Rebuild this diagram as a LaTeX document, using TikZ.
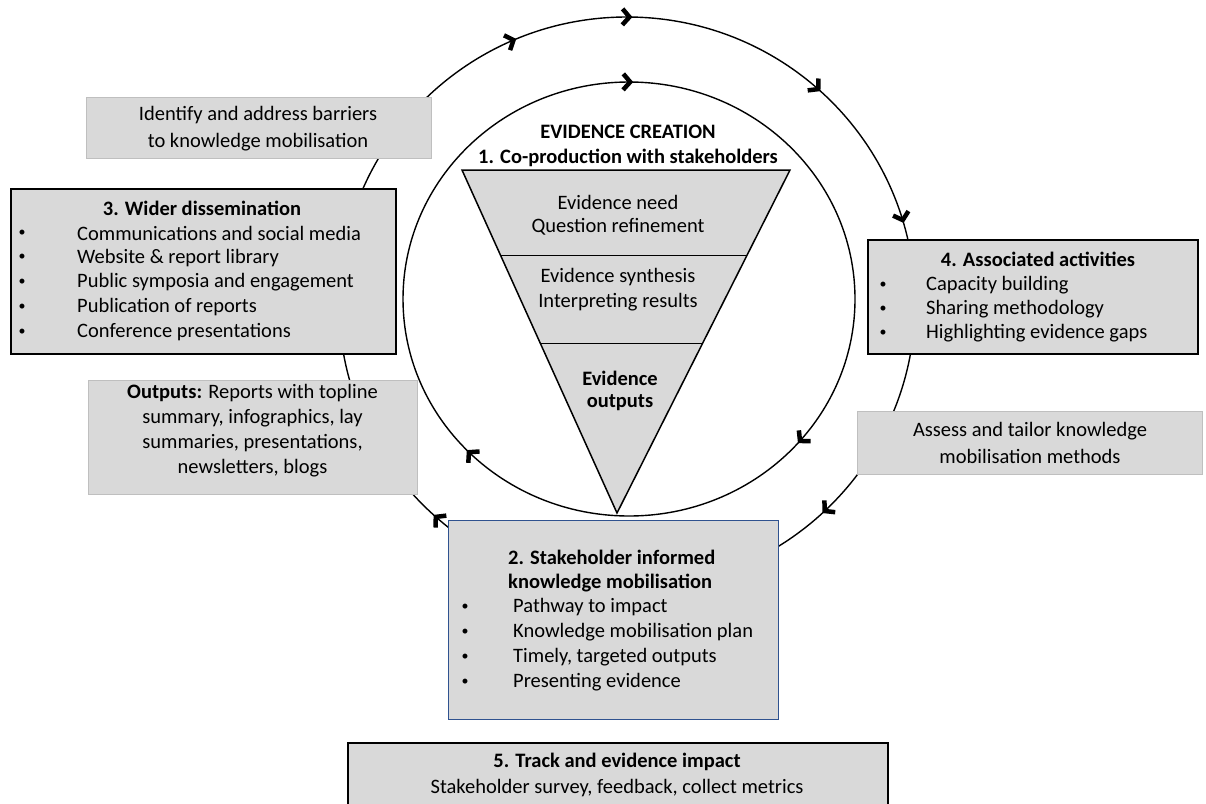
\documentclass[tikz,border=0pt]{standalone}
\usepackage{fontspec}
\setmainfont{Carlito}
\usetikzlibrary{arrows.meta,decorations.markings}
\definecolor{boxfill}{HTML}{D9D9D9}
\definecolor{lightedge}{HTML}{BFBFBF}
\definecolor{blueedge}{HTML}{2F528F}
\tikzset{chevtip/.tip={Straight Barb[length=7pt,width=16pt,line width=4.5pt]}}
\begin{document}
\begin{tikzpicture}[x=1pt,y=-1pt,
  txt/.style={inner sep=0pt, font=\fontsize{20.5}{25}\selectfont},
  btxt/.style={txt, font=\fontsize{20.5}{25}\selectfont\bfseries},
  bul/.style={inner sep=0pt, font=\fontsize{14}{14}\selectfont},
  darkbox/.style={draw=black, line width=1.5pt, fill=boxfill, inner sep=0pt, anchor=north west},
  lightbox/.style={draw=lightedge, line width=1pt, fill=boxfill, inner sep=0pt, anchor=north west},
  bluebox/.style={draw=blueedge, line width=1.3pt, fill=boxfill, inner sep=0pt, anchor=north west},
  ring/.style={line width=1.4pt}
]
\useasboundingbox (0,0) rectangle (1206,803);

% outer cycle
\draw[ring, postaction={decorate}, decoration={markings,
   mark=at position 0.131 with {\arrow{chevtip}},
   mark=at position 0.3675 with {\arrow{chevtip}},
   mark=at position 0.687 with {\arrow{chevtip}},
   mark=at position 0.753 with {\arrow{chevtip}},
   mark=at position 0.8675 with {\arrow{chevtip}},
   mark=at position 0.955 with {\arrow{chevtip}}}]
  (915,303) arc[start angle=0, end angle=360, x radius=288, y radius=286];

% inner cycle
\draw[ring, postaction={decorate}, decoration={markings,
   mark=at position 0.114 with {\arrow{chevtip}},
   mark=at position 0.379 with {\arrow{chevtip}},
   mark=at position 0.753 with {\arrow{chevtip}}}]
  (855,299) arc[start angle=0, end angle=360, x radius=226, y radius=217];

% funnel
\coordinate (tl) at (462,170);
\coordinate (tr) at (790,170);
\coordinate (tip) at (617,513);
\draw[line width=1.5pt, fill=boxfill] (tl) -- (tr) -- (tip) -- cycle;
\coordinate (d1l) at (500.4,255);
\coordinate (d1r) at (747.4,255);
\coordinate (d2l) at (540.2,343);
\coordinate (d2r) at (702.7,343);
\draw[line width=1pt] (d1l) -- (d1r);
\draw[line width=1pt] (d2l) -- (d2r);

\node[btxt] (ec) at (628,132) {EVIDENCE CREATION};
\node[btxt] (cp) at (628,158) {1. Co-production with stakeholders};
\node[txt] (t1) at (618,202) {Evidence need};
\node[txt] (t2) at (618,227) {Question refinement};
\node[txt] (t3) at (618,277) {Evidence synthesis};
\node[txt] (t4) at (618,302) {Interpreting results};
\node[btxt] (t5) at (620,378) {Evidence};
\node[btxt] (t6) at (620,403) {outputs};

% boxes
\node[lightbox, minimum width=345pt, minimum height=61pt] (barr) at (86,97) {};
\node[txt] (barr1) at (258,115) {Identify and address barriers};
\node[txt] (barr2) at (258,142) {to knowledge mobilisation};

\node[darkbox, minimum width=385pt, minimum height=165pt] (wider) at (10,188) {};
\node[btxt] (widert) at (202,208) {3. Wider dissemination};
\foreach \y/\t [count=\i] in {233/Communications and social media, 257.75/Website \& report library, 282.5/Public symposia and engagement, 307.25/Publication of reports, 332/Conference presentations}{
  \node[bul] (wb\i) at (22,\y) {•};
  \node[txt, anchor=west] (wl\i) at (77,\y) {\t};
}

\node[lightbox, minimum width=329pt, minimum height=114pt] (outp) at (88,380) {};
\node[txt] (o1) at (252.5,393) {\textbf{Outputs:} Reports with topline};
\node[txt] (o2) at (252.5,418) {summary, infographics, lay};
\node[txt] (o3) at (252.5,443) {summaries, presentations,};
\node[txt] (o4) at (252.5,468) {newsletters, blogs};

\node[darkbox, minimum width=330pt, minimum height=114pt] (assoc) at (867,239) {};
\node[btxt] (assoct) at (1038,259) {4. Associated activities};
\foreach \y/\t [count=\i] in {285/Capacity building, 309/Sharing methodology, 333/Highlighting evidence gaps}{
  \node[bul] (ab\i) at (883,\y) {•};
  \node[txt, anchor=west] (al\i) at (926,\y) {\t};
}

\node[lightbox, minimum width=345pt, minimum height=63pt] (assess) at (857,411) {};
\node[txt] (as1) at (1030,431) {Assess and tailor knowledge};
\node[txt] (as2) at (1030,456) {mobilisation methods};

\node[bluebox, minimum width=330pt, minimum height=199pt] (kmob) at (448,520) {};
\node[btxt, anchor=west] (km1) at (508,557) {2. Stakeholder informed};
\node[btxt, anchor=west] (km2) at (508,583) {knowledge mobilisation};
\foreach \y/\t [count=\i] in {607/Pathway to impact, 632/Knowledge mobilisation plan, 657/{Timely, targeted outputs}, 682/Presenting evidence}{
  \node[bul] (kb\i) at (465,\y) {•};
  \node[txt, anchor=west] (kl\i) at (513,\y) {\t};
}

\node[darkbox, minimum width=540pt, minimum height=80pt] (track) at (347,742) {};
\node[btxt] (tr1) at (617,762) {5. Track and evidence impact};
\node[txt] (tr2) at (617,788) {Stakeholder survey, feedback, collect metrics};
\end{tikzpicture}
\end{document}
